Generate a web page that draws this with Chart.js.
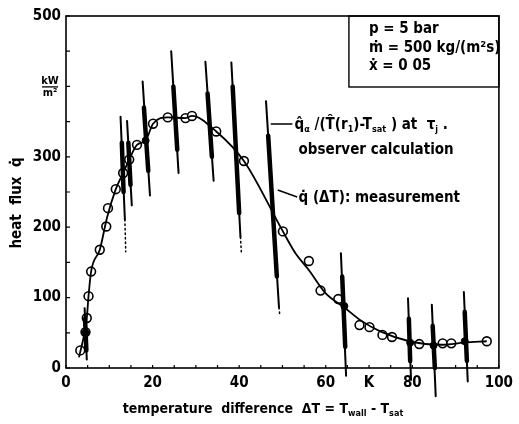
<!DOCTYPE html>
<html>
<head>
<meta charset="utf-8">
<script src="https://cdn.jsdelivr.net/npm/chart.js@4"></script>
<style>
  html, body { margin: 0; padding: 0; background: #fff; }
  canvas { display: block; }
</style>
</head>
<body>
<canvas id="boiling" width="519" height="424"></canvas>
<script>
// open circles: observer calculation result per time step
const circleX = [3.3, 4.5, 4.8, 5.2, 5.8, 7.8, 9.3, 9.7, 11.5, 13.2, 14.6, 16.4, 20.1, 23.5, 27.6, 29.1, 34.7, 41.1, 50.1, 56.1, 58.8, 62.9, 67.8, 70.1, 73.1, 75.3, 81.6, 87.0, 89.0, 97.2];
const circleY = [25, 51, 71, 102, 137, 168, 201, 227, 254, 277, 296, 317, 347, 356, 355, 358, 336, 294, 194, 152, 110, 98, 61, 58, 47, 44, 34, 35, 35, 38];

// solid boiling curve
const curveX = [3.0, 4.8, 5.2, 5.8, 7.8, 9.5, 11.5, 13.2, 14.6, 16.4, 18.4, 20.1, 23.5, 27.6, 29.1, 34.7, 41.1, 50.1, 53, 56, 60, 64.3, 68, 72.6, 79.3, 86.9, 92, 97.2];
const curveY = [15, 71, 102, 137, 168, 214, 254, 277, 296, 317, 323, 347, 356, 355, 358, 336, 294, 194, 163, 140, 106, 86, 68, 52, 38, 33, 36, 38];

// filled dots: q(dT) measurement
const measX = [4.5, 18.4, 64.3, 79.5, 84.9, 92.1];
const measY = [50, 323, 88, 36, 32, 38];

// spread of the observer calculation (top -> bottom of each stroke)
const spreadX1 = [4.3, 12.6, 14.1, 17.7, 24.3, 32.2, 38.2, 46.2, 63.5, 79.0, 84.5, 91.9];
const spreadY1 = [85, 357, 351, 407, 450, 435, 434, 379, 163, 99, 90, 108];
const spreadX2 = [4.8, 13.6, 15.2, 19.4, 26.0, 34.1, 40.3, 49.2, 64.7, 79.7, 85.4, 92.8];
const spreadY2 = [12, 211, 231, 245, 277, 266, 186, 86, -11, -17, -40, -19];

// thick core of each stroke
const coreX1 = [4.4, 12.9, 14.4, 18.0, 24.8, 32.7, 38.5, 46.7, 63.8, 79.2, 84.7, 92.1];
const coreY1 = [70, 320, 320, 370, 400, 390, 400, 330, 130, 70, 60, 80];
const coreX2 = [4.7, 13.3, 14.9, 19.0, 25.7, 33.7, 40.0, 48.7, 64.5, 79.5, 85.2, 92.6];
const coreY2 = [25, 250, 260, 280, 310, 300, 220, 130, 30, 10, 0, 10];

// dotted tails below some strokes
const tailX1 = [13.6, 40.3, 49.2];
const tailY1 = [211, 186, 86];
const tailX2 = [13.8, 40.5, 49.4];
const tailY2 = [165, 165, 74];

const xTickValues = [0, 20, 40, 60, 70, 80, 100];
const xTickText = ['0', '20', '40', '60', 'K', '80', '100'];
const yTickValues = [0, 100, 200, 300, 400, 500];
const yTickText = ['0', '100', '200', '300', '', '500'];

const FONT = "'DejaVu Sans Condensed', 'Liberation Sans Narrow', sans-serif";

function drawRuns(ctx, runs, x, y, size, align) {
    // runs: [text, isSub]
    let total = 0;
    runs.forEach(r => {
        ctx.font = 'bold ' + (r[1] ? Math.round(size * 0.62) : size) + 'px ' + FONT;
        total += ctx.measureText(r[0]).width;
    });
    let cx = align === 'center' ? x - total / 2 : x;
    ctx.textAlign = 'left';
    ctx.textBaseline = 'alphabetic';
    runs.forEach(r => {
        ctx.font = 'bold ' + (r[1] ? Math.round(size * 0.62) : size) + 'px ' + FONT;
        ctx.fillText(r[0], cx, r[1] ? y + size * 0.22 : y);
        cx += ctx.measureText(r[0]).width;
    });
}

const decorations = {
    id: 'decorations',
    afterDraw(chart) {
        const ctx = chart.ctx;
        const a = chart.chartArea;
        const xs = chart.scales.x;
        const ys = chart.scales.y;
        ctx.save();
        ctx.strokeStyle = '#000';
        ctx.fillStyle = '#000';

        // frame
        ctx.lineWidth = 1.6;
        ctx.strokeRect(a.left, a.top, a.right - a.left, a.bottom - a.top);

        // small inward ticks
        ctx.lineWidth = 1.2;
        ctx.beginPath();
        for (let v = 0; v <= 500; v += 50) {
            const py = ys.getPixelForValue(v);
            ctx.moveTo(a.left, py);
            ctx.lineTo(a.left + 4, py);
        }
        for (let v = 0; v <= 100; v += 5) {
            const px = xs.getPixelForValue(v);
            ctx.moveTo(px, a.bottom);
            ctx.lineTo(px, a.bottom - 3);
        }
        ctx.stroke();

        // unit kW/m2 in place of the 400 label
        const uy = ys.getPixelForValue(400);
        ctx.textAlign = 'center';
        ctx.textBaseline = 'alphabetic';
        ctx.font = 'bold 11px ' + FONT;
        ctx.fillText('kW', 50, uy - 2);
        ctx.fillText('m²', 50, uy + 10);
        ctx.lineWidth = 1.3;
        ctx.beginPath();
        ctx.moveTo(42, uy + 0.5);
        ctx.lineTo(58, uy + 0.5);
        ctx.stroke();

        // axis titles
        drawRuns(ctx, [['temperature  difference  ΔT = T', false], ['wall', true], [' - T', false], ['sat', true]], 263, 413, 14, 'center');
        ctx.save();
        ctx.translate(21, 203);
        ctx.rotate(-Math.PI / 2);
        drawRuns(ctx, [['heat  flux  q̇', false]], 0, 0, 15, 'center');
        ctx.restore();

        // parameter box
        const bw = 150, bh = 71;
        ctx.lineWidth = 1.4;
        ctx.strokeRect(a.right - bw, a.top, bw, bh);
        drawRuns(ctx, [['p = 5 bar', false]], a.right - bw + 20, a.top + 17, 15, 'left');
        drawRuns(ctx, [['ṁ = 500 kg/(m²s)', false]], a.right - bw + 20, a.top + 36, 15, 'left');
        drawRuns(ctx, [['ẋ = 0 05', false]], a.right - bw + 20, a.top + 54, 15, 'left');

        // annotations with pointer lines
        ctx.lineWidth = 1.4;
        ctx.beginPath();
        ctx.moveTo(xs.getPixelForValue(47.3), ys.getPixelForValue(346.6));
        ctx.lineTo(xs.getPixelForValue(52.3), ys.getPixelForValue(346.6));
        ctx.moveTo(xs.getPixelForValue(48.9), ys.getPixelForValue(252.8));
        ctx.lineTo(xs.getPixelForValue(53.4), ys.getPixelForValue(242.9));
        ctx.stroke();
        const tx = xs.getPixelForValue(52.8);
        drawRuns(ctx, [['q̂', false], ['α', true], [' /(T̂(r', false], ['1', true], [')-T', false], ['sat', true], [' ) at  τ', false], ['j', true], [' .', false]], tx, ys.getPixelForValue(340), 15, 'left');
        drawRuns(ctx, [['observer calculation', false]], tx + 4, ys.getPixelForValue(304), 15, 'left');
        drawRuns(ctx, [['q̇ (ΔT): measurement', false]], tx + 4, ys.getPixelForValue(236), 15, 'left');
        ctx.restore();
    }
};

const datasets = [];
function segment(x1, y1, x2, y2, width, dash) {
    return {
        type: 'line',
        data: [{ x: x1, y: y1 }, { x: x2, y: y2 }],
        borderColor: '#000',
        borderWidth: width,
        borderDash: dash || [],
        borderCapStyle: 'round',
        pointRadius: 0,
        clip: false
    };
}
spreadX1.forEach((x, i) => datasets.push(segment(x, spreadY1[i], spreadX2[i], spreadY2[i], 2)));
coreX1.forEach((x, i) => datasets.push(segment(x, coreY1[i], coreX2[i], coreY2[i], 4.5)));
tailX1.forEach((x, i) => datasets.push(segment(x, tailY1[i], tailX2[i], tailY2[i], 1.5, [1.5, 3])));
datasets.push({
    type: 'line',
    data: curveX.map((x, i) => ({ x: x, y: curveY[i] })),
    borderColor: '#000',
    borderWidth: 1.8,
    pointRadius: 0,
    cubicInterpolationMode: 'monotone'
});
datasets.push({
    type: 'scatter',
    data: measX.map((x, i) => ({ x: x, y: measY[i] })),
    backgroundColor: '#000',
    borderColor: '#000',
    pointRadius: 3.5
});
datasets.push({
    type: 'scatter',
    data: circleX.map((x, i) => ({ x: x, y: circleY[i] })),
    backgroundColor: '#fff',
    borderColor: '#000',
    borderWidth: 1.6,
    pointRadius: 4.4
});

new Chart(document.getElementById('boiling'), {
    type: 'scatter',
    data: { datasets: datasets },
    options: {
        responsive: false,
        animation: false,
        devicePixelRatio: 1,
        layout: { padding: { top: 16, right: 12, left: 0, bottom: 0 } },
        plugins: { legend: { display: false }, tooltip: { enabled: false } },
        scales: {
            x: {
                type: 'linear',
                min: 0,
                max: 100,
                grid: { display: false, drawTicks: false },
                border: { display: false },
                afterBuildTicks: scale => { scale.ticks = xTickValues.map(v => ({ value: v })); },
                afterFit: scale => { scale.height = 56; },
                ticks: {
                    padding: 6,
                    maxRotation: 0,
                    autoSkip: false,
                    color: '#000',
                    font: { family: FONT, size: 15, weight: 'bold' },
                    callback: v => xTickText[xTickValues.indexOf(v)]
                }
            },
            y: {
                type: 'linear',
                min: 0,
                max: 500,
                grid: { display: false, drawTicks: false },
                border: { display: false },
                afterBuildTicks: scale => { scale.ticks = yTickValues.map(v => ({ value: v })); },
                afterFit: scale => { scale.width = 66; },
                ticks: {
                    padding: 5,
                    autoSkip: false,
                    color: '#000',
                    font: { family: FONT, size: 15, weight: 'bold' },
                    callback: v => yTickText[yTickValues.indexOf(v)]
                }
            }
        }
    },
    plugins: [decorations]
});
</script>
</body>
</html>
